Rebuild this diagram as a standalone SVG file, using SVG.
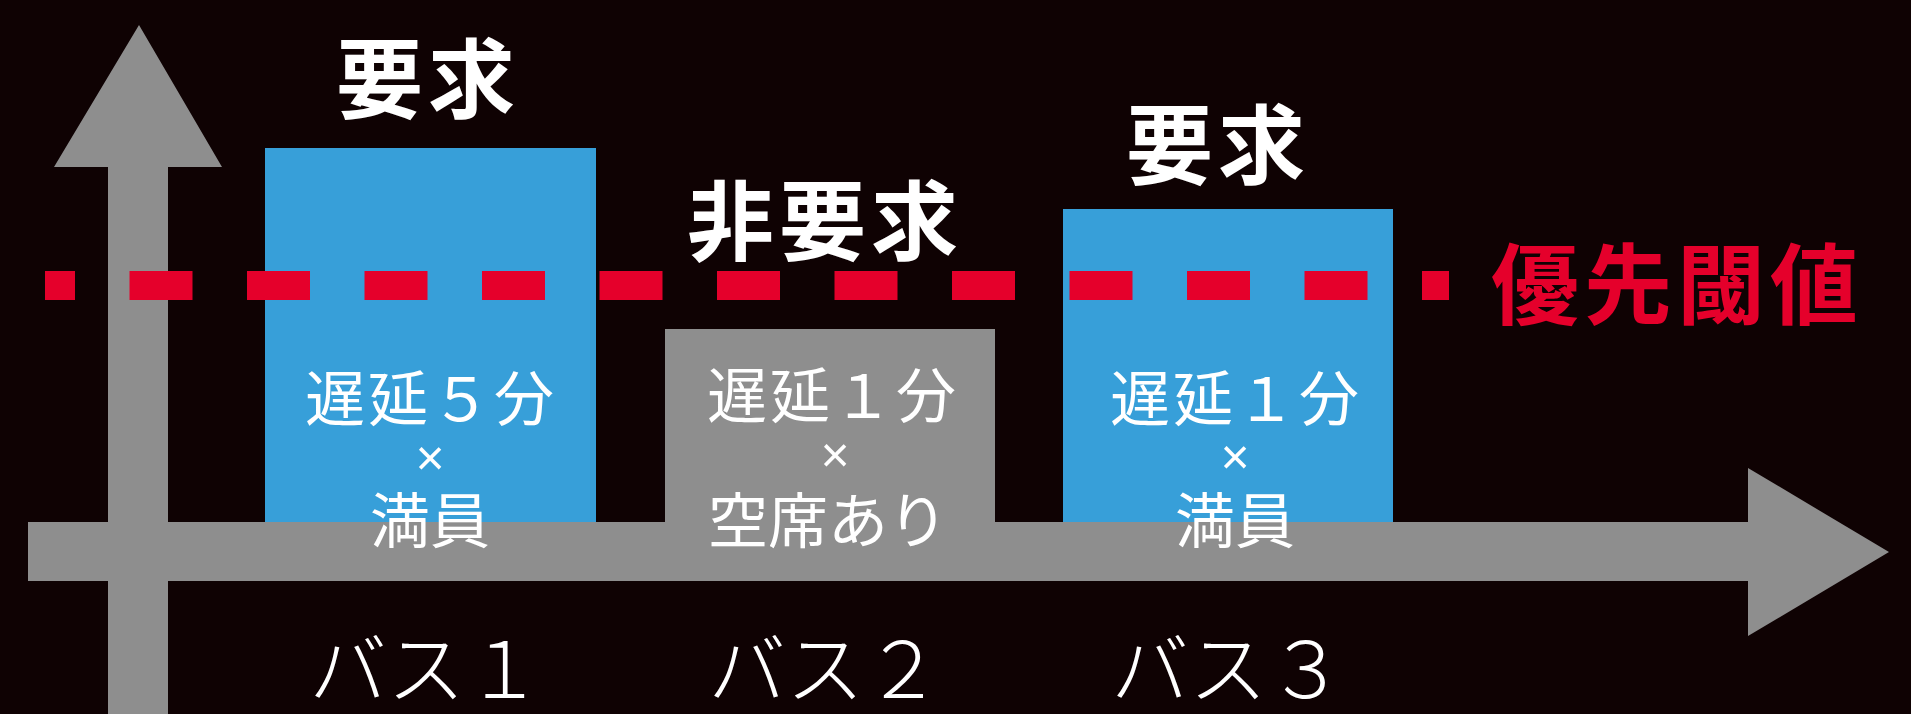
<svg xmlns="http://www.w3.org/2000/svg" width="1911" height="714" viewBox="0 0 1911 714">
<style>
.bg{fill:#0f0203}
.ax{fill:#8e8e8e}
.req{fill:#379fd9}
.non{fill:#8e8e8e}
.dash{stroke:#e5002b;stroke-width:29;stroke-dasharray:63 54.5;stroke-dashoffset:33;fill:none}
.head{font-family:"Noto Sans CJK JP","Noto Sans CJK SC",sans-serif;font-weight:700;font-size:87px;fill:#ffffff;text-anchor:middle;letter-spacing:5px}
.in{font-family:"Noto Sans CJK JP","Noto Sans CJK SC",sans-serif;font-weight:400;font-size:60px;fill:#ffffff;text-anchor:middle}
.x{font-family:"Liberation Sans",sans-serif;font-weight:400;font-size:50px;fill:#ffffff;text-anchor:middle}
.bus{font-family:"Noto Sans CJK JP","Noto Sans CJK SC",sans-serif;font-weight:300;font-size:78px;fill:#ffffff;text-anchor:middle}
.thr{font-family:"Noto Sans CJK JP","Noto Sans CJK SC",sans-serif;font-weight:700;font-size:88px;fill:#e5002b;letter-spacing:5px}
</style>
<rect class="bg" x="0" y="0" width="1911" height="714"/>
<g id="bus1">
<rect class="req" x="265" y="148" width="331" height="374"/>
<text class="head" x="428" y="112">要求</text>
</g>
<g id="bus2">
<rect class="non" x="665" y="329" width="330" height="193"/>
<text class="head" x="825" y="254">非要求</text>
</g>
<g id="bus3">
<rect class="req" x="1063" y="209" width="330" height="313"/>
<text class="head" x="1218" y="178">要求</text>
</g>
<g id="connectors">
<polygon class="ax" points="108,714 108,167 54,167 139,25 222,167 168,167 168,714"/>
<polygon class="ax" points="28,522 1748,522 1748,468 1889,552 1748,636 1748,581 28,581"/>
</g>
<g id="threshold">
<line class="dash" x1="45" y1="285.5" x2="1449" y2="285.5"/>
<text class="thr" x="1491" y="317">優先閾値</text>
</g>
<g id="bus1-text">
<text class="in" x="431" y="421" letter-spacing="3">遅延５分</text>
<text class="x" x="430" y="475">×</text>
<text class="in" x="430" y="543">満員</text>
<text class="bus" x="426" y="698">バス１</text>
</g>
<g id="bus2-text">
<text class="in" x="833" y="418" letter-spacing="3">遅延１分</text>
<text class="x" x="835" y="472">×</text>
<text class="in" x="828" y="543">空席あり</text>
<text class="bus" x="825" y="698">バス２</text>
</g>
<g id="bus3-text">
<text class="in" x="1236" y="421" letter-spacing="3">遅延１分</text>
<text class="x" x="1235" y="474">×</text>
<text class="in" x="1235" y="543">満員</text>
<text class="bus" x="1228" y="698">バス３</text>
</g>
</svg>
